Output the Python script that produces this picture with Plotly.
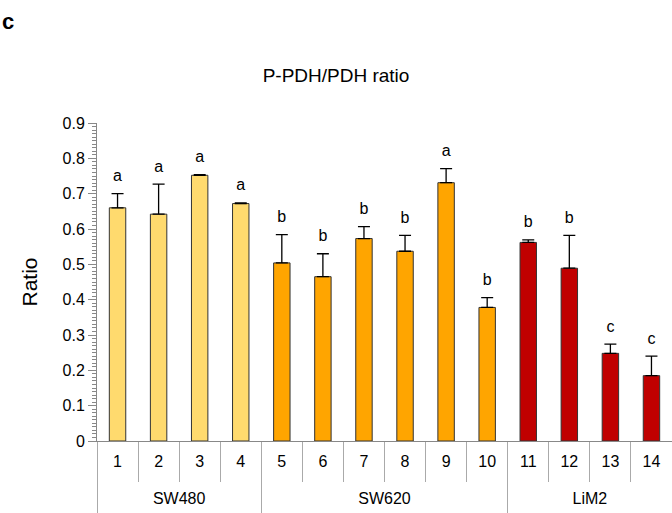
import plotly.graph_objects as go

# P-PDH/PDH ratio per sample, grouped by cell line
groups = ["SW480"] * 4 + ["SW620"] * 6 + ["LiM2"] * 4
samples = [str(i) for i in range(1, 15)]
ratio = [0.660, 0.642, 0.752, 0.672, 0.504, 0.465, 0.573, 0.537, 0.731, 0.378,
         0.562, 0.489, 0.248, 0.185]
err = [0.040, 0.085, 0.002, 0.002, 0.080, 0.065, 0.034, 0.045, 0.040, 0.028,
       0.007, 0.093, 0.026, 0.055]
letters = ["a", "a", "a", "a", "b", "b", "b", "b", "a", "b", "b", "b", "c", "c"]
y_ticks = [0, 0.1, 0.2, 0.3, 0.4, 0.5, 0.6, 0.7, 0.8, 0.9]
y_ticktext = ["0", "0.1", "0.2", "0.3", "0.4", "0.5", "0.6", "0.7", "0.8", "0.9"]

group_colors = {"SW480": "#FFDA6E", "SW620": "#FFA500", "LiM2": "#C00000"}
colors = [group_colors[g] for g in groups]
tops = [r + e for r, e in zip(ratio, err)]

# group spans on the category index scale (0..n-1)
group_names = []
for g in groups:
    if g not in group_names:
        group_names.append(g)
bounds = [-0.5]
centers = []
start = 0
for g in group_names:
    n = groups.count(g)
    centers.append(start + (n - 1) / 2)
    start += n
    bounds.append(start - 0.5)

FONT = "Liberation Sans"

fig = go.Figure()
fig.add_trace(go.Bar(
    x=samples, y=ratio,
    marker=dict(color=colors, line=dict(color="#333333", width=1)),
    width=0.4,
    error_y=dict(type="data", symmetric=False, array=err,
                 arrayminus=[0] * len(err), color="black",
                 thickness=1.3, width=6),
    showlegend=False,
))
# significance letters above the error bars (hidden marker pads the gap)
fig.add_trace(go.Scatter(
    x=samples, y=tops, mode="markers+text", text=letters,
    textposition="top center",
    marker=dict(size=12, opacity=0),
    textfont=dict(family=FONT, size=16, color="black"),
    showlegend=False, cliponaxis=False, hoverinfo="skip",
))
# invisible trace that activates the group axis
fig.add_trace(go.Scatter(
    x=centers, y=[0] * len(centers), xaxis="x2", mode="markers",
    marker=dict(opacity=0), showlegend=False, hoverinfo="skip",
))

fig.update_layout(
    width=672, height=513,
    margin=dict(l=97, r=0, t=123, b=72),
    plot_bgcolor="white", paper_bgcolor="white",
    font=dict(family=FONT, color="black", size=16),
    title=dict(text="P-PDH/PDH ratio", x=0.5, xanchor="center",
               y=1 - 75 / 513, yanchor="middle",
               font=dict(size=19)),
    annotations=[dict(text="<b>c</b>", xref="paper", yref="paper",
                      x=-97 / 575, y=1 + (123 - 22) / 318,
                      xanchor="left", yanchor="middle", showarrow=False,
                      font=dict(size=22, family=FONT))],
    xaxis=dict(
        type="category", range=[-0.5, len(samples) - 0.5],
        showline=True, linecolor="#888888", linewidth=1,
        ticks="outside", ticklen=40, tickcolor="#aaaaaa", tickson="boundaries",
        ticklabelstandoff=6,
        showgrid=False, tickfont=dict(size=16, family=FONT),
    ),
    xaxis2=dict(
        overlaying="x", anchor="y", side="bottom",
        range=[-0.5, len(samples) - 0.5],
        tickmode="array", tickvals=centers, ticktext=group_names,
        ticks="", ticklabelstandoff=46,
        minor=dict(tickmode="array", tickvals=bounds, ticks="outside",
                   ticklen=80, tickcolor="#aaaaaa"),
        showgrid=False, zeroline=False, showline=False,
        tickfont=dict(size=16, family=FONT),
    ),
    yaxis=dict(
        range=[0, 0.9], tickmode="array", tickvals=y_ticks, ticktext=y_ticktext,
        showline=True, linecolor="#888888", linewidth=1,
        ticks="outside", ticklen=8, tickcolor="#888888",
        minor=dict(tickmode="linear", tick0=0, dtick=0.01, ticks="outside",
                   ticklen=4, tickcolor="#888888"),
        showgrid=False, zeroline=False,
        title=dict(text="Ratio", font=dict(size=21), standoff=19),
        tickfont=dict(size=16, family=FONT),
    ),
)

fig.write_html("out.html")
